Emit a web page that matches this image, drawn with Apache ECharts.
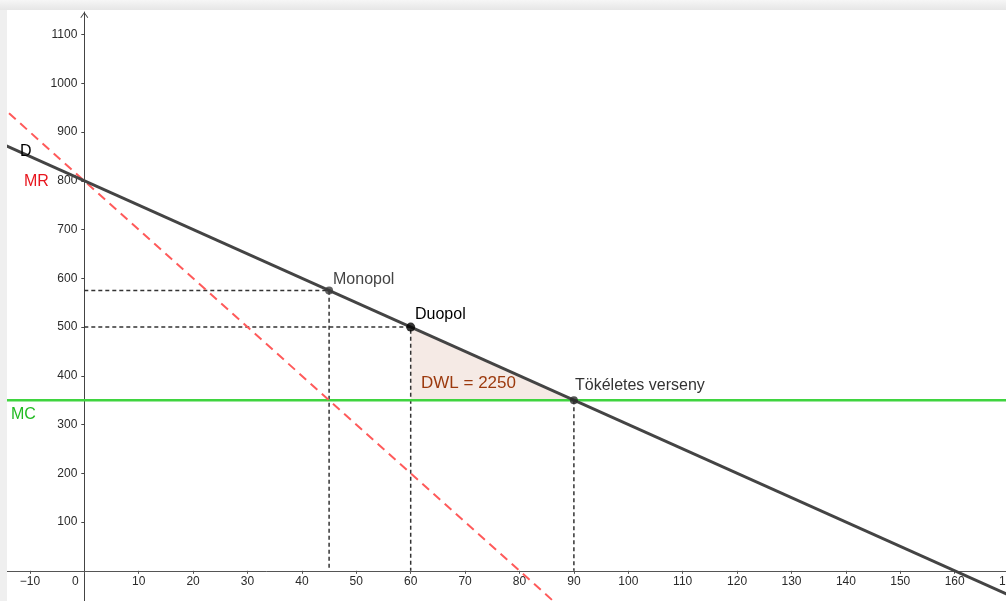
<!DOCTYPE html>
<html>
<head>
<meta charset="utf-8">
<script src="https://cdn.jsdelivr.net/npm/echarts@6/dist/echarts.min.js"></script>
<style>
  html, body { margin: 0; padding: 0; width: 1006px; height: 601px; overflow: hidden; background: #efefef; }
  #topbar { position: absolute; left: 0; top: 0; width: 1006px; height: 10px;
            background: linear-gradient(#f6f6f6, #e6e6e6); }
  #chart { position: absolute; left: 7px; top: 10px; width: 1040px; height: 620px; background: #ffffff; }
</style>
</head>
<body>
<div id="topbar"></div>
<div id="chart"></div>
<script>
// ---- data ----
const xTicks = [-10, 0, 10, 20, 30, 40, 50, 60, 70, 80, 90, 100, 110, 120, 130, 140, 150, 160, 170];
const yTicks = [100, 200, 300, 400, 500, 600, 700, 800, 900, 1000, 1100];
const demandLine = [[-20, 900], [180, -100]];   // D
const mrLine = [[-20, 1000], [100, -200]];      // MR
const mcLine = [[-20, 350], [180, 350]];        // MC
const pointNames = ['Monopol', 'Duopol', 'Tökéletes verseny'];
const pointQ = [45, 60, 90];
const pointP = [575, 500, 350];
const dwlTriangle = [[60, 500], [90, 350], [60, 350]];
const dwlText = 'DWL = 2250';
const curveNames = ['D', 'MR', 'MC'];

// ---- layout ----
const FONT = '"Liberation Sans", Arial, sans-serif';
const W = 1040, H = 620, GT = 2;
const xMin = -14.21, xMax = 176.97;
const yMin = -121.4, yMax = 1146.3;
// offsets that put each axis line on the other axis's zero
const xAxisOffset = -((H - GT) * (0 - yMin) / (yMax - yMin));
const yAxisOffset = -(W * (0 - xMin) / (xMax - xMin));

const guideStyle = { color: '#333333', width: 1.5, type: [4, 3] };

const series = [];
series.push({
  type: 'custom', silent: true, z: 1,
  renderItem: function (params, api) {
    const pts = dwlTriangle.map(p => api.coord(p));
    return { type: 'polygon', shape: { points: pts }, style: { fill: 'rgba(153, 51, 0, 0.10)', stroke: 'none' } };
  },
  data: [0]
});
for (let i = 0; i < pointNames.length; i++) {
  const q = pointQ[i], p = pointP[i];
  const path = i < 2 ? [[0, p], [q, p], [q, 0]] : [[q, p], [q, 0]];
  series.push({ type: 'line', data: path, symbol: 'none', lineStyle: guideStyle, z: 2, silent: true });
}
series.push({ type: 'line', name: curveNames[2], data: mcLine, symbol: 'none',
  lineStyle: { color: '#3fd43f', width: 2.5 }, z: 3, silent: true });
series.push({ type: 'line', name: curveNames[1], data: mrLine, symbol: 'none',
  lineStyle: { color: '#ff5a5a', width: 2, type: [9, 6] }, z: 3, silent: true });
series.push({ type: 'line', name: curveNames[0], data: demandLine, symbol: 'none',
  lineStyle: { color: '#444444', width: 3 }, z: 4, silent: true });
const pointColors = ['#3a3a3a', '#000000', '#2a2a2a'];
const pointSizes = [8, 9, 8];
series.push({
  type: 'scatter', z: 5, silent: true,
  data: pointNames.map((n, i) => ({
    value: [pointQ[i], pointP[i]], symbolSize: pointSizes[i], itemStyle: { color: pointColors[i] }
  }))
});

function txt(x, y, text, color, size) {
  return { type: 'text', x: x, y: y, z: 100,
    style: { text: text, fill: color, font: (size || 16) + 'px ' + FONT, textVerticalAlign: 'middle' } };
}

const chart = echarts.init(document.getElementById('chart'), null, { renderer: 'canvas' });
chart.setOption({
  animation: false,
  backgroundColor: '#ffffff',
  grid: { left: 0, right: 0, top: GT, bottom: 0, outerBoundsMode: 'none' },
  xAxis: {
    type: 'value', min: xMin, max: xMax, position: 'bottom', offset: xAxisOffset,
    axisLine: { onZero: false, lineStyle: { color: '#555555', width: 1 },
      symbol: ['none', 'path://M0,7 L5,0 L10,7 L9,7.6 L5,2 L1,7.6 Z'], symbolSize: [9, 6] },
    axisTick: { show: true, length: 3, customValues: xTicks, lineStyle: { color: '#555555' } },
    axisLabel: {
      customValues: xTicks, margin: 5, color: '#2a2a2a', fontSize: 12, fontFamily: FONT, hideOverlap: false,
      formatter: function (v) { return v === 0 ? '{o|0}' : (v < 0 ? '\u2212' + Math.abs(v) : '' + v); },
      rich: { o: { padding: [0, 18, 0, 0], color: '#2a2a2a', fontSize: 12, fontFamily: FONT } }
    },
    splitLine: { show: false }
  },
  yAxis: {
    type: 'value', min: yMin, max: yMax, position: 'left', offset: yAxisOffset,
    axisLine: { onZero: false, lineStyle: { color: '#444444', width: 1 },
      symbol: ['none', 'path://M0,7 L5,0 L10,7 L9,7.6 L5,2 L1,7.6 Z'], symbolSize: [9, 6], symbolOffset: [0, -3] },
    axisTick: { show: true, length: 3, customValues: yTicks, lineStyle: { color: '#444444' } },
    axisLabel: { customValues: yTicks, margin: 7, color: '#2a2a2a', fontSize: 12, fontFamily: FONT, hideOverlap: false,
      formatter: function (v) { return '' + v; } },
    splitLine: { show: false }
  },
  series: series,
  graphic: [
    txt(326, 270, pointNames[0], '#444444'),
    txt(408, 305, pointNames[1], '#000000'),
    txt(568, 376, pointNames[2], '#333333'),
    txt(414, 373, dwlText, '#9c3a0e', 17),
    txt(13, 142, curveNames[0], '#000000'),
    txt(17, 172, curveNames[1], '#e8161e'),
    txt(4, 405, curveNames[2], '#22bb22')
  ]
});
</script>
</body>
</html>
